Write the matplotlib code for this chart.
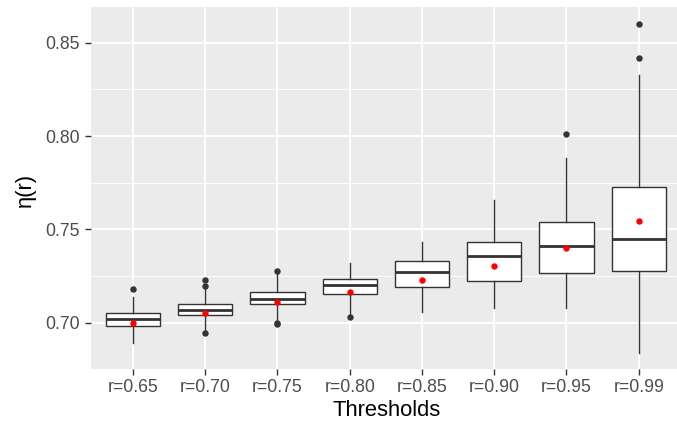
import matplotlib
matplotlib.use("Agg")
import matplotlib.pyplot as plt

categories = ["r=0.65", "r=0.70", "r=0.75", "r=0.80", "r=0.85", "r=0.90", "r=0.95", "r=0.99"]
q1 = [0.6981, 0.7041, 0.7102, 0.7152, 0.7190, 0.7225, 0.7266, 0.7277]
med = [0.7018, 0.7067, 0.7129, 0.7200, 0.7273, 0.7356, 0.7413, 0.7450]
q3 = [0.7050, 0.7102, 0.7166, 0.7234, 0.7332, 0.7431, 0.7538, 0.7729]
whislo = [0.6890, 0.6956, 0.7010, 0.7040, 0.7059, 0.7080, 0.7080, 0.6836]
whishi = [0.7139, 0.7179, 0.7261, 0.7320, 0.7431, 0.7656, 0.7881, 0.8327]
means = [0.7000, 0.7052, 0.7109, 0.7166, 0.7229, 0.7302, 0.7399, 0.7547]
fliers = [[0.7182], [0.7230, 0.7198, 0.6944], [0.7275, 0.6998, 0.6995], [0.7029],
          [], [], [0.8011], [0.8601, 0.8419]]
yticks = [0.70, 0.75, 0.80, 0.85]
yminor = [0.725, 0.775, 0.825]

plt.rcParams['font.family'] = ['Liberation Sans', 'DejaVu Sans']

W, H = 677, 422
fig = plt.figure(figsize=(W / 100, H / 100), dpi=100)
left, right, top, bottom = 90.7, 677, 6.7, 369.3
ax = fig.add_axes([left / W, 1 - bottom / H, (right - left) / W, (bottom - top) / H])
ax.set_facecolor('#EBEBEB')
for s in ax.spines.values():
    s.set_visible(False)

stats = []
for i in range(len(categories)):
    stats.append(dict(med=med[i], q1=q1[i], q3=q3[i], whislo=whislo[i], whishi=whishi[i],
                      fliers=fliers[i], mean=means[i], label=categories[i]))

positions = list(range(1, len(categories) + 1))
edge = '#333333'
ax.bxp(stats, positions=positions, widths=0.75, patch_artist=True, showmeans=True,
       showcaps=False, zorder=3,
       boxprops=dict(facecolor='white', edgecolor=edge, linewidth=1.0),
       whiskerprops=dict(color=edge, linewidth=1.0),
       medianprops=dict(color=edge, linewidth=2.0),
       flierprops=dict(marker='o', markerfacecolor=edge, markeredgecolor=edge, markersize=3.6),
       meanprops=dict(marker='o', markerfacecolor='red', markeredgecolor='red', markersize=3.6))

ax.set_xlim(0.4145, 8.53)
ax.set_ylim(0.6750, 0.8693)
ax.set_yticks(yticks)
ax.set_yticklabels([f"{v:.2f}" for v in yticks])
ax.set_yticks(yminor, minor=True)
ax.set_xticks(positions)
ax.set_xticklabels(categories)

ax.grid(True, which='major', color='white', linewidth=1.4, zorder=0)
ax.grid(True, which='minor', axis='y', color='white', linewidth=0.7, zorder=0)
ax.set_axisbelow(True)

ax.tick_params(axis='both', which='major', length=4.1, width=1.0, color=edge,
               labelsize=12.7, labelcolor='#4D4D4D')
ax.tick_params(axis='y', which='major', pad=3.6)
ax.tick_params(axis='x', which='major', pad=3.0)
ax.tick_params(which='minor', length=0)

ax.set_xlabel("Thresholds", fontsize=15.8, color='black')
ax.set_ylabel("η(r)", fontsize=15.8, color='black')
axh = bottom - top
axw = right - left
ax.xaxis.set_label_coords(((333 + 441) / 2 - left) / axw, (bottom - 411) / axh)
ax.xaxis.label.set_va('center')
ax.yaxis.set_label_coords((25 - left) / axw, (bottom - 190) / axh)
ax.yaxis.label.set_va('center')

fig.savefig("out.png", dpi=100)
